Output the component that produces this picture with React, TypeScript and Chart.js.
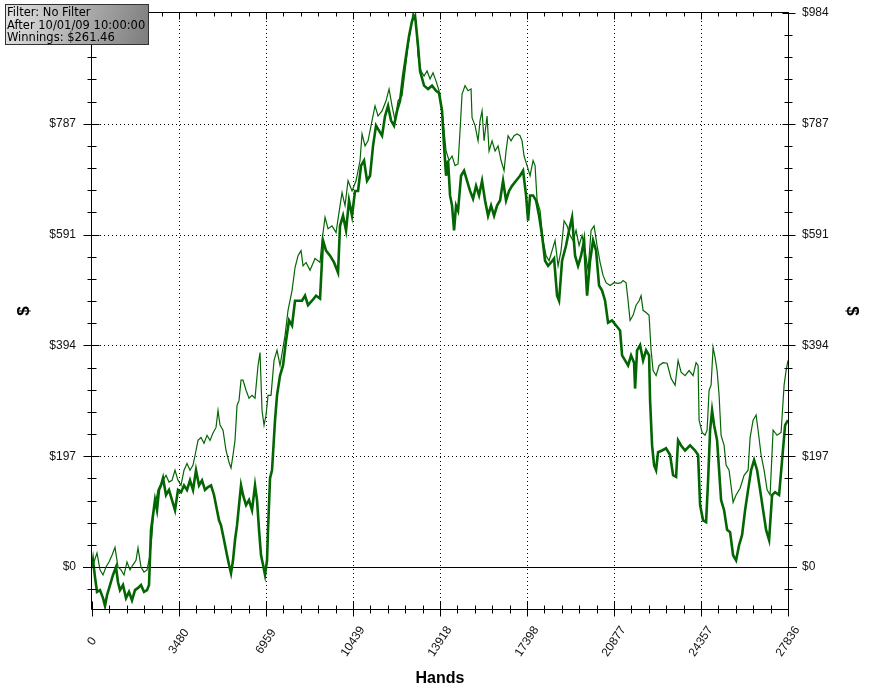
import React, { useEffect, useRef } from 'react';
import { Chart, registerables } from 'chart.js';

Chart.register(...registerables);

// ---- Data (hands played, $ won) ----
const handsA = [0, 40, 120, 200, 320, 440, 520, 600, 720, 840, 960, 1040, 1120, 1240, 1360, 1480, 1600, 1720, 1840, 1960, 2080, 2200, 2280, 2360, 2440, 2520, 2600, 2680, 2760, 2840, 2960, 3080, 3200, 3320, 3440, 3560, 3680, 3800, 3920, 4040, 4160, 4280, 4400, 4520, 4640, 4760, 4880, 5000, 5080, 5160, 5280, 5400, 5480, 5560, 5640, 5720, 5800, 5880, 5960, 6040, 6160, 6280, 6400, 6520, 6600, 6680, 6760, 6840, 6920, 7000, 7040, 7120, 7200, 7320, 7400, 7520, 7640, 7760, 7880, 8000, 8120, 8240, 8400, 8520, 8640, 8800, 8960, 9120, 9240, 9360, 9520, 9680, 9840, 9920, 10040, 10160, 10280, 10400, 10520, 10640, 10760, 10880, 11000, 11120, 11240, 11360, 11480, 11600, 11720, 11840, 11960, 12080, 12200, 12320, 12440, 12560, 12680, 12800, 12920, 13040, 13120, 13280, 13440, 13600, 13760, 13880, 14000, 14080, 14160, 14240, 14320, 14400, 14480, 14560, 14640, 14760, 14880, 15000, 15120, 15240, 15360, 15480, 15600, 15720, 15840, 15960, 16080, 16200, 16320, 16440, 16560, 16680, 16800, 16960, 17120, 17240, 17360, 17440, 17520, 17640, 17760, 17880, 18000, 18120, 18240, 18360, 18480, 18600, 18680, 18800, 18960, 19080, 19200, 19320, 19440, 19560, 19680, 19800, 19920, 20040, 20160, 20280, 20400, 20520, 20640, 20800, 20960, 21120, 21200, 21320, 21440, 21560, 21680, 21720, 21800, 21920, 22040, 22160, 22280, 22320, 22400, 22480, 22560, 22640, 22800, 22960, 23120, 23240, 23360, 23440, 23560, 23720, 23920, 24120, 24240, 24320, 24440, 24560, 24640, 24720, 24800, 24880, 25000, 25080, 25160, 25280, 25400, 25520, 25640, 25760, 25880, 26000, 26120, 26240, 26360, 26480, 26600, 26720, 26840, 26960, 27080, 27200, 27320, 27480, 27600, 27720, 27836];
const winA = [0, 12, -18, -44, -41, -55, -69, -50, -32, -14, 0, -27, -41, -32, -55, -44, -59, -41, -37, -32, -44, -41, -32, 66, 92, 119, 101, 137, 145, 158, 128, 137, 119, 101, 137, 133, 145, 137, 154, 137, 172, 145, 154, 137, 142, 145, 128, 101, 83, 74, 48, 21, 4, -11, 12, 48, 74, 110, 145, 128, 110, 119, 101, 145, 119, 66, 21, 4, -14, 12, 66, 158, 172, 261, 305, 340, 358, 402, 438, 429, 473, 473, 473, 482, 465, 473, 482, 477, 580, 562, 553, 541, 523, 606, 624, 598, 651, 624, 668, 668, 713, 722, 686, 695, 748, 784, 775, 766, 801, 819, 793, 784, 810, 828, 872, 908, 943, 970, 979, 926, 881, 855, 849, 855, 846, 842, 810, 748, 695, 722, 660, 642, 598, 642, 633, 695, 704, 686, 668, 654, 677, 660, 686, 651, 624, 642, 624, 642, 651, 686, 651, 668, 677, 686, 695, 704, 660, 615, 660, 660, 651, 624, 589, 544, 535, 541, 548, 482, 473, 544, 571, 598, 621, 553, 535, 553, 580, 482, 544, 580, 562, 500, 491, 473, 434, 438, 429, 420, 376, 367, 358, 376, 363, 317, 385, 394, 367, 385, 376, 296, 216, 181, 172, 204, 207, 211, 199, 163, 160, 225, 216, 207, 216, 207, 199, 110, 83, 80, 154, 243, 278, 252, 225, 172, 119, 101, 66, 62, 21, 12, 39, 57, 101, 137, 172, 190, 172, 137, 101, 66, 48, 128, 133, 128, 190, 252, 261];

const handsB = [0, 80, 200, 320, 440, 560, 680, 800, 920, 1040, 1160, 1280, 1400, 1520, 1640, 1760, 1840, 1960, 2080, 2200, 2320, 2400, 2480, 2560, 2640, 2720, 2840, 2960, 3080, 3200, 3320, 3440, 3560, 3680, 3800, 3920, 4040, 4160, 4240, 4360, 4480, 4600, 4720, 4840, 4960, 5040, 5120, 5240, 5360, 5480, 5560, 5640, 5720, 5800, 5880, 5960, 6040, 6160, 6280, 6400, 6520, 6640, 6720, 6800, 6880, 6960, 7040, 7160, 7280, 7400, 7520, 7720, 7840, 8000, 8120, 8240, 8360, 8440, 8560, 8720, 8920, 9120, 9200, 9320, 9440, 9600, 9760, 9920, 10000, 10120, 10240, 10400, 10560, 10720, 10800, 10920, 11040, 11200, 11320, 11440, 11600, 11760, 11880, 12000, 12120, 12240, 12400, 12520, 12640, 12760, 12840, 12960, 13040, 13160, 13280, 13400, 13520, 13640, 13760, 13880, 14000, 14080, 14160, 14280, 14400, 14520, 14640, 14720, 14800, 14920, 15040, 15160, 15200, 15320, 15440, 15520, 15600, 15680, 15800, 15880, 16000, 16120, 16240, 16360, 16480, 16560, 16640, 16760, 16880, 17000, 17120, 17200, 17280, 17400, 17520, 17640, 17720, 17800, 17920, 18040, 18160, 18280, 18400, 18520, 18640, 18760, 18880, 19000, 19120, 19240, 19360, 19480, 19600, 19720, 19840, 19960, 20080, 20200, 20320, 20440, 20560, 20720, 20880, 21040, 21160, 21240, 21360, 21440, 21520, 21640, 21760, 21880, 21960, 22040, 22160, 22280, 22360, 22440, 22560, 22680, 22840, 23000, 23160, 23320, 23440, 23560, 23720, 23880, 24040, 24160, 24240, 24280, 24400, 24520, 24600, 24680, 24760, 24840, 24920, 25000, 25080, 25160, 25280, 25360, 25480, 25640, 25760, 25920, 26080, 26240, 26320, 26440, 26560, 26640, 26760, 26880, 27000, 27120, 27240, 27400, 27560, 27680, 27760, 27836];
const winB = [0, 9, 25, -5, -14, 0, 9, 21, 35, 0, -5, -14, 9, -5, 4, 12, 34, 0, -9, -5, 21, 57, 110, 119, 137, 145, 154, 163, 151, 154, 172, 154, 145, 172, 184, 172, 181, 207, 225, 230, 220, 234, 225, 238, 248, 278, 252, 243, 207, 186, 176, 199, 225, 287, 296, 332, 332, 314, 300, 305, 300, 358, 381, 278, 252, 270, 305, 305, 367, 385, 358, 411, 456, 491, 532, 553, 562, 535, 541, 527, 548, 541, 580, 621, 601, 606, 594, 642, 665, 642, 686, 668, 686, 722, 769, 748, 757, 793, 819, 801, 810, 828, 849, 819, 793, 828, 837, 881, 926, 961, 984, 970, 908, 881, 872, 881, 867, 878, 863, 846, 810, 775, 739, 722, 730, 713, 716, 775, 840, 855, 846, 849, 798, 784, 757, 793, 810, 757, 801, 739, 757, 739, 748, 722, 704, 739, 766, 757, 766, 769, 766, 757, 730, 713, 695, 722, 713, 651, 633, 580, 553, 544, 562, 580, 535, 562, 615, 606, 589, 580, 598, 571, 589, 562, 527, 598, 606, 571, 541, 518, 505, 500, 505, 504, 505, 509, 505, 473, 438, 447, 465, 473, 482, 456, 452, 447, 385, 349, 340, 358, 363, 362, 335, 323, 367, 346, 340, 349, 340, 363, 358, 261, 239, 234, 243, 314, 323, 390, 372, 349, 305, 234, 216, 181, 172, 115, 128, 140, 163, 172, 230, 261, 270, 243, 199, 172, 137, 128, 243, 234, 239, 323, 349, 367];

// ---- Axes ----
const xMax = 27836;
const xTickValues = [0, 3479.5, 6959, 10438.5, 13918, 17397.5, 20877, 24356.5, 27836];
const xTickLabels = ['0', '3480', '6959', '10439', '13918', '17398', '20877', '24357', '27836'];
const yMin = -74.5;
const yMax = 984;
const yTickValues = [0, 196.8, 393.6, 590.4, 787.2, 984];
const yTickLabels = ['$0', '$197', '$394', '$591', '$787', '$984'];
const xMinorDivisions = 40;
const yMinorStep = 196.8 / 5;

const infoLines = ['Filter: No Filter', 'After 10/01/09 10:00:00', 'Winnings: $261.46'];

const LINE_COLOR = '#036603';
const FONT = "'Liberation Sans', Arial, sans-serif";

const decorPlugin = {
  id: 'decor',
  beforeDatasetsDraw(chart: any) {
    const ctx = chart.ctx;
    const { left, right, top, bottom } = chart.chartArea;
    const xs = chart.scales.x;
    const ys = chart.scales.y;
    ctx.save();
    ctx.strokeStyle = '#000';
    ctx.lineWidth = 1;
    ctx.setLineDash([1, 3]);
    xTickValues.forEach((v, i) => {
      if (i === 0 || i === xTickValues.length - 1) return;
      const px = Math.round(xs.getPixelForValue(v)) + 0.5;
      ctx.beginPath();
      ctx.moveTo(px, top);
      ctx.lineTo(px, bottom);
      ctx.stroke();
    });
    yTickValues.forEach((v, i) => {
      if (i === 0 || i === yTickValues.length - 1) return;
      const py = Math.round(ys.getPixelForValue(v)) + 0.5;
      ctx.beginPath();
      ctx.moveTo(left, py);
      ctx.lineTo(right, py);
      ctx.stroke();
    });
    ctx.setLineDash([]);
    const y0 = Math.round(ys.getPixelForValue(0)) + 0.5;
    ctx.beginPath();
    ctx.moveTo(left - 9, y0);
    ctx.lineTo(right + 9, y0);
    ctx.stroke();
    ctx.restore();
  },
  afterDatasetsDraw(chart: any) {
    const ctx = chart.ctx;
    const { left, right, top, bottom } = chart.chartArea;
    const xs = chart.scales.x;
    const ys = chart.scales.y;
    ctx.save();
    ctx.strokeStyle = '#000';
    ctx.lineWidth = 1;
    const L = Math.round(left) - 0.5;
    const R = Math.round(right) + 0.5;
    const T = Math.round(top) - 0.5;
    const B = Math.round(bottom) + 0.5;
    ctx.beginPath();
    ctx.moveTo(L, T); ctx.lineTo(R, T); ctx.lineTo(R, B); ctx.lineTo(L, B); ctx.closePath();
    ctx.stroke();
    for (let i = 0; i <= xMinorDivisions; i++) {
      const v = (i * xMax) / xMinorDivisions;
      const px = Math.round(xs.getPixelForValue(v)) + 0.5;
      const major = i % 5 === 0;
      ctx.beginPath();
      ctx.moveTo(px, B - (major ? 8 : 4));
      ctx.lineTo(px, B + (major ? 7 : 4));
      ctx.moveTo(px, T);
      ctx.lineTo(px, T + (major ? 7 : 4));
      ctx.stroke();
    }
    for (let k = Math.ceil(yMin / yMinorStep); k * yMinorStep <= yMax + 0.01; k++) {
      const v = k * yMinorStep;
      const py = Math.round(ys.getPixelForValue(v)) + 0.5;
      const major = k % 5 === 0;
      ctx.beginPath();
      ctx.moveTo(L - (major ? 8 : 4), py);
      ctx.lineTo(L + (major ? 8 : 5), py);
      ctx.moveTo(R - (major ? 6 : 4), py);
      ctx.lineTo(R + (major ? 7 : 4), py);
      ctx.stroke();
    }
    // rotated x tick labels, centred under each tick
    ctx.fillStyle = '#111';
    ctx.font = `12px ${FONT}`;
    ctx.textAlign = 'center';
    ctx.textBaseline = 'middle';
    xTickValues.forEach((v, i) => {
      const px = xs.getPixelForValue(v);
      ctx.save();
      ctx.translate(px, B + 32);
      ctx.rotate((-56 * Math.PI) / 180);
      ctx.fillText(xTickLabels[i], 0, 0);
      ctx.restore();
    });
    // info box
    const bx = 5, by = 4, bw = 144, bh = 41;
    const g = ctx.createLinearGradient(bx, by, bx + bw, by + bh);
    g.addColorStop(0, '#e4e4e4');
    g.addColorStop(1, '#7c7c7c');
    ctx.fillStyle = g;
    ctx.fillRect(bx, by, bw, bh);
    ctx.strokeStyle = '#333';
    ctx.strokeRect(bx + 0.5, by + 0.5, bw - 1, bh - 1);
    ctx.fillStyle = '#000';
    ctx.font = "11.5px 'DejaVu Sans', Verdana, sans-serif";
    ctx.textBaseline = 'alphabetic';
    ctx.textAlign = 'left';
    infoLines.forEach((t, i) => {
      ctx.fillText(t, 7, 16 + i * 12.5);
    });
    ctx.restore();
  },
};

export default function App() {
  const ref = useRef<HTMLCanvasElement | null>(null);
  useEffect(() => {
    document.body.style.margin = '0';
    const canvas = ref.current;
    if (!canvas) return;
    const yAxis = (position: 'left' | 'right', width: number, pad: number, titlePad: number) => ({
      type: 'linear' as const,
      position,
      min: yMin,
      max: yMax,
      afterBuildTicks: (s: any) => {
        s.ticks = yTickValues.map((v) => ({ value: v }));
      },
      afterFit: (s: any) => {
        s.width = width;
        s.paddingTop = 0;
        s.paddingBottom = 0;
      },
      grid: { display: false, drawTicks: false },
      border: { display: false },
      ticks: {
        padding: pad,
        color: '#111',
        font: { family: FONT, size: 12 },
        callback: (_v: any, i: number) => yTickLabels[i],
      },
      title: {
        display: true,
        text: '$',
        color: '#000',
        font: { family: FONT, size: 17, weight: 'bold' as const },
        padding: { top: titlePad, bottom: 0 },
      },
    });
    const chart = new Chart(canvas, {
      type: 'line',
      data: {
        datasets: [
          {
            label: 'Winnings',
            data: handsA.map((h, i) => ({ x: h, y: winA[i] })),
            borderColor: LINE_COLOR,
            borderWidth: 2.6,
            pointRadius: 0,
            tension: 0,
            xAxisID: 'x',
            yAxisID: 'y',
          },
          {
            label: 'Line 2',
            data: handsB.map((h, i) => ({ x: h, y: winB[i] })),
            borderColor: LINE_COLOR,
            borderWidth: 1.2,
            pointRadius: 0,
            tension: 0,
            xAxisID: 'x',
            yAxisID: 'y',
          },
        ],
      },
      options: {
        animation: false,
        responsive: false,
        devicePixelRatio: 1,
        layout: { padding: { top: 13, left: 0, right: 0, bottom: 0 } },
        plugins: { legend: { display: false }, tooltip: { enabled: false } },
        scales: {
          x: {
            type: 'linear',
            position: 'bottom',
            min: 0,
            max: xMax,
            afterBuildTicks: (s: any) => {
              s.ticks = xTickValues.map((v) => ({ value: v }));
            },
            afterFit: (s: any) => {
              s.height = 81;
              s.paddingLeft = 0;
              s.paddingRight = 0;
            },
            grid: { display: false, drawTicks: false },
            border: { display: false },
            ticks: { display: false, autoSkip: false, callback: (_v: any, i: number) => xTickLabels[i] },
            title: {
              display: true,
              text: 'Hands',
              color: '#000',
              font: { family: FONT, size: 16, weight: 'bold' },
              padding: { top: 0, bottom: 2 },
            },
          },
          y: yAxis('left', 92, 16, 14) as any,
          y2: yAxis('right', 86, 14, 12) as any,
        },
      },
      plugins: [decorPlugin],
    });
    return () => chart.destroy();
  }, []);
  return <canvas ref={ref} width={874} height={690} style={{ display: 'block', width: 874, height: 690 }} />;
}
